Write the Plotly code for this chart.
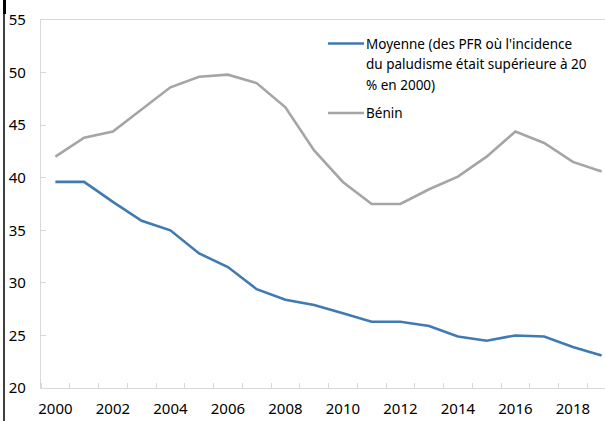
import plotly.graph_objects as go

# Données
years = list(range(2000, 2020))
moyenne = [39.6, 39.6, 37.7, 35.9, 35.0, 32.8, 31.5, 29.4, 28.4, 27.9,
           27.1, 26.3, 26.3, 25.9, 24.9, 24.5, 25.0, 24.9, 23.9, 23.1]
benin = [42.0, 43.8, 44.4, 46.5, 48.6, 49.6, 49.8, 49.0, 46.7, 42.6,
         39.6, 37.5, 37.5, 38.9, 40.1, 42.0, 44.4, 43.3, 41.5, 40.6]
legend_moyenne = ["Moyenne (des PFR où l'incidence",
                  "du paludisme était supérieure à 20",
                  "% en 2000)"]
legend_benin = ["Bénin"]
tick_years = list(range(2000, 2020, 2))

BLUE = "#3f7ab2"
GREY = "#a5a5a5"
AXIS = "#d9d9d9"
FONT = "Noto Sans"

W, H = 605, 421
L, R, T, B = 41, 0, 20, 33
PW, PH = W - L - R, H - T - B


def px_x(x):
    return (x - L) / PW


def px_y(y):
    return (H - B - y) / PH


fig = go.Figure()
fig.add_trace(go.Scatter(x=years, y=moyenne, mode="lines",
                         line=dict(color=BLUE, width=2.6), name=" ".join(legend_moyenne)))
fig.add_trace(go.Scatter(x=years, y=benin, mode="lines",
                         line=dict(color=GREY, width=2.6), name=legend_benin[0]))

# légende dessinée à la main (interligne du modèle)
shapes = []
annotations = []
for color, lines, y0 in [(BLUE, legend_moyenne, 43.5), (GREY, legend_benin, 113)]:
    shapes.append(dict(type="line", xref="paper", yref="paper",
                       x0=px_x(328), x1=px_x(364), y0=px_y(y0), y1=px_y(y0),
                       line=dict(color=color, width=2.6)))
    for i, txt in enumerate(lines):
        annotations.append(dict(text=txt, xref="paper", yref="paper",
                                x=px_x(364), y=px_y(y0 + i * 20.5),
                                xanchor="left", yanchor="middle", showarrow=False,
                                font=dict(family=FONT, size=13.5, color="#000")))

# trait noir à gauche (bord du cadre)
shapes.append(dict(type="line", xref="paper", yref="paper",
                   x0=px_x(4), x1=px_x(4), y0=px_y(H), y1=px_y(0),
                   line=dict(color="black", width=1.5)))
shapes.append(dict(type="line", xref="paper", yref="paper",
                   x0=px_x(4.5), x1=px_x(4.5), y0=px_y(14), y1=px_y(0),
                   line=dict(color="black", width=3)))

fig.update_layout(
    width=W, height=H,
    margin=dict(l=L, r=R, t=T, b=B),
    plot_bgcolor="white", paper_bgcolor="white",
    showlegend=False,
    font=dict(family=FONT, size=15, color="#000"),
    shapes=shapes,
    annotations=annotations,
)
fig.update_xaxes(
    range=[1999.5, 1999.5 + PW / 28.75],
    tickvals=tick_years, ticktext=[str(y) for y in tick_years],
    ticks="", showgrid=False, zeroline=False,
    showline=True, linecolor=AXIS, linewidth=1.3, mirror=True,
    ticklabelstandoff=7,
    minor=dict(tickvals=[y - 0.5 for y in years] + [2019.5], ticks="inside",
               ticklen=5, tickcolor=AXIS, tickwidth=1, showgrid=False),
)
fig.update_yaxes(
    range=[20, 55], dtick=5, tick0=20,
    ticks="inside", ticklen=5, tickcolor=AXIS, tickwidth=1,
    showgrid=False, zeroline=False,
    showline=True, linecolor=AXIS, linewidth=1.3, mirror=True,
    ticklabelstandoff=11,
)

# la page ajoute 8 px de marge autour du graphique : on la retire
fig.write_html("out.html", config={"displayModeBar": False},
               post_script="document.body.style.margin = '0';")
